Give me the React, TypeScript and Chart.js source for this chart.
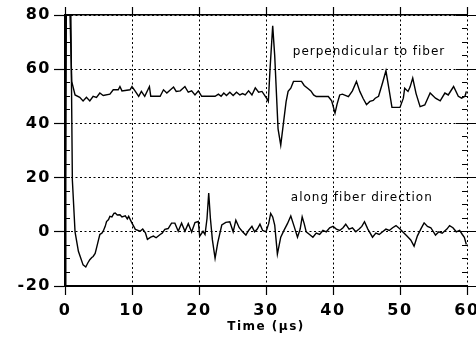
import React, { useEffect, useRef } from "react";
import { Chart, registerables } from "chart.js";

Chart.register(...registerables);

// ---- data (time in µs, amplitude) ----
const perpTime = [
  0, 0.15, 0.55, 1.0, 1.5, 2.2, 2.7, 3.2, 3.7, 4.2, 4.7, 5.2, 5.7, 6.7, 7.2, 7.95, 8.2, 8.5, 9.7, 10.0,
  10.5, 11.0, 11.4, 11.9, 12.6, 12.8, 14.2, 14.7, 15.2, 16.2, 16.6, 17.2, 17.9, 18.4, 18.9, 19.4, 19.9, 20.4, 22.4, 22.9,
  23.3, 23.7, 24.1, 24.6, 25.1, 25.6, 26.1, 26.5, 26.9, 27.4, 27.9, 28.4, 28.9, 29.4, 29.9, 30.1, 30.35, 30.6, 31.0, 31.3,
  31.8, 32.2, 32.6, 33.0, 33.3, 33.7, 34.1, 35.3, 35.7, 36.3, 36.7, 37.1, 37.5, 39.3, 39.8, 40.3, 40.6, 41.0, 41.4, 42.3,
  42.9, 43.5, 44.0, 44.5, 45.0, 45.5, 46.0, 46.3, 46.8, 47.4, 47.9, 48.4, 48.8, 50.0, 50.5, 50.7, 51.2, 51.5, 51.9, 52.4,
  53.0, 53.7, 54.5, 55.3, 56.0, 56.7, 57.2, 58.0, 58.7, 59.2, 59.7, 59.9,
];
const perpValue = [
  50, 100, 100, 55.5, 50.5, 49.6, 48.3, 49.6, 48.3, 50, 49.6, 51.2, 50.3, 50.8, 52.4, 52.4, 53.6, 52, 52.4, 53.6,
  51.8, 50, 51.8, 50, 53.6, 50, 50, 52.4, 51.2, 53.4, 51.8, 52, 53.6, 51.5, 52, 50.5, 52, 50, 50, 50.8,
  50, 51.2, 50.3, 51.5, 50.3, 51.5, 50.5, 51, 50.5, 52, 50.5, 53.1, 51.5, 51.8, 50, 49.2, 48.1, 60, 76, 65,
  38, 32, 40, 48, 51.8, 53, 55.5, 55.5, 54, 52.8, 52, 50.5, 49.9, 49.9, 48.3, 43.8, 47, 50.5, 50.8, 49.9,
  52, 55.5, 51.8, 49.2, 46.9, 48.1, 48.5, 49.3, 50, 55, 59.4, 52, 45.9, 45.9, 49.3, 53, 51.8, 53.4, 56.7, 51,
  46.2, 46.8, 51.2, 49.3, 48.3, 51.2, 50.5, 53.6, 50, 49.3, 50, 51.8,
];

const alongTime = [
  0, 0.25, 0.8, 1.1, 1.5, 2.0, 2.7, 3.1, 3.4, 3.7, 4.0, 4.2, 4.5, 4.7, 5.0, 5.2, 5.5, 5.7, 6.0, 6.2,
  6.5, 6.7, 7.0, 7.3, 7.5, 7.8, 8.2, 8.5, 9.0, 9.3, 9.5, 10.0, 10.5, 11.2, 11.6, 12.0, 12.3, 12.8, 13.2, 13.6,
  14.2, 14.5, 14.9, 15.4, 15.9, 16.4, 16.9, 17.4, 17.9, 18.4, 18.9, 19.4, 19.9, 20.1, 20.6, 20.9, 21.2, 21.45, 21.7, 22.0,
  22.4, 22.8, 23.4, 24.0, 24.6, 25.1, 25.5, 26.0, 26.5, 27.0, 27.4, 27.9, 28.3, 28.7, 29.1, 29.5, 30.0, 30.4, 30.7, 31.0,
  31.3, 31.7, 32.2, 32.7, 33.2, 33.7, 34.2, 34.7, 35.1, 35.4, 35.7, 36.0, 36.5, 37.0, 37.5, 38.0, 38.5, 39.0, 39.5, 40.0,
  40.5, 41.0, 41.5, 41.9, 42.4, 42.9, 43.4, 43.9, 44.3, 44.7, 45.2, 45.9, 46.4, 46.9, 47.4, 47.9, 48.4, 48.9, 49.4, 50.0,
  50.4, 51.0, 51.6, 52.1, 52.6, 53.1, 53.6, 54.1, 54.6, 55.3, 55.8, 56.3, 57.0, 57.4, 57.9, 58.4, 58.9, 59.3, 59.6, 59.9,
];
const alongValue = [
  0, 100, 100, 19, 0, -7.2, -12.2, -13, -11.5, -10.3, -9.5, -9.1, -8, -6, -3, -1, -0.5, 0.2, 2, 3.8,
  4.5, 5.7, 5.5, 6.8, 6.9, 6.2, 6.3, 5.5, 5.9, 4.8, 5.7, 3.2, 0.9, 0.2, 1, -0.4, -2.8, -2, -1.6, -2.2,
  -1, -0.5, 0.9, 1.2, 3.2, 3.2, 0.2, 3.2, 0.2, 3, -0.1, 3.4, 3.8, -1.6, 0.2, -1, 5, 14.3, 5, -3,
  -9.8, -4, 2.5, 3.5, 3.7, 0, 4.3, 1.5, 0, -1.2, 0.5, 2, 0, 1, 2.8, 0.5, 0, 3, 6.8, 5.5,
  2.5, -8.2, -2, 0.6, 3, 5.8, 2, -2, 1, 5.5, 3, 0, -1, -2, -0.5, -1, 0.5, 0, 1.5, 2,
  1, 0.5, 1.5, 2.8, 1, 1.5, 0, 1, 2, 3.7, 1, -2, -0.5, -1, 0, 1, 0.5, 1.5, 2.3, 1,
  0, -1.5, -3, -5.3, -1.5, 1, 3.3, 2, 1.5, -1.2, 0, -0.5, 1, 2.3, 1.5, 0, 0.5, -1, -2, -4.7,
];

const xMin = 0;
const xMax = 60;
const yMin = -20;
const yMax = 80;

const seriesLabels = ["perpendicular to fiber", "along fiber direction"];
const labelAnchorsX = [34.0, 33.7];
const labelAnchorsY = [65.3, 11.3];

const toPoints = (xs: number[], ys: number[]) => xs.map((x, i) => ({ x, y: ys[i] }));

const TICK_FONT = { family: "'DejaVu Sans', sans-serif", size: 16, weight: "bold" as const };

export default function App() {
  const ref = useRef<HTMLCanvasElement | null>(null);

  useEffect(() => {
    const canvas = ref.current;
    if (!canvas) return;

    const spacingPlugin = {
      id: "spacing",
      beforeDraw(c: any) {
        c.ctx.letterSpacing = "1.5px";
      },
      afterDraw(c: any) {
        c.ctx.letterSpacing = "0px";
      },
    };

    const labelPlugin = {
      id: "seriesText",
      afterDraw(c: any) {
        const ctx = c.ctx;
        const sx = c.scales.x;
        const sy = c.scales.y;
        ctx.save();
        ctx.letterSpacing = "1px";
        ctx.fillStyle = "#000";
        ctx.font = "12px 'DejaVu Sans', sans-serif";
        ctx.textAlign = "left";
        ctx.textBaseline = "alphabetic";
        for (let i = 0; i < seriesLabels.length; i++) {
          ctx.fillText(seriesLabels[i], sx.getPixelForValue(labelAnchorsX[i]), sy.getPixelForValue(labelAnchorsY[i]));
        }
        ctx.restore();
      },
    };

    const minorScale = (position: string, step: number, tickLength: number, axis: "x" | "y", weight = 0, size = 0) => ({
      type: "linear",
      position,
      axis,
      min: axis === "x" ? xMin : yMin,
      max: axis === "x" ? xMax : yMax,
      weight,
      ticks: { display: false, stepSize: step },
      grid: { display: true, drawOnChartArea: false, drawTicks: true, tickLength, tickColor: "#000", tickWidth: 1 },
      border: { display: false },
      afterFit: (s: any) => {
        if (axis === "x") s.height = size;
        else s.width = size;
      },
    });

    const chart = new Chart(canvas, {
      type: "scatter",
      data: {
        datasets: [
          {
            label: seriesLabels[0],
            data: toPoints(perpTime, perpValue),
            showLine: true,
            borderColor: "#000",
            borderWidth: 1.4,
            pointRadius: 0,
            tension: 0,
          },
          {
            label: seriesLabels[1],
            data: toPoints(alongTime, alongValue),
            showLine: true,
            borderColor: "#000",
            borderWidth: 1.4,
            pointRadius: 0,
            tension: 0,
          },
        ],
      },
      options: {
        animation: false,
        responsive: false,
        devicePixelRatio: 1,
        layout: { padding: { left: 0, right: 0, top: 7, bottom: 0 } },
        plugins: { legend: { display: false }, tooltip: { enabled: false } },
        scales: {
          x: {
            type: "linear",
            position: "bottom",
            min: xMin,
            max: xMax,
            ticks: { stepSize: 10, color: "#000", font: TICK_FONT, padding: 6, maxRotation: 0 },
            grid: { color: "#000", lineWidth: 1, tickLength: 9, tickColor: "#000", tickWidth: 1.2 },
            border: { display: true, color: "#000", width: 2, dash: [2, 2.5] },
            title: {
              display: true,
              text: "Time (µs)",
              color: "#000",
              font: { family: "'DejaVu Sans', sans-serif", size: 12, weight: "bold" },
              padding: { top: 0, bottom: 3 },
            },
            afterFit: (s: any) => {
              s.height = 51;
              s.paddingLeft = 0;
              s.paddingRight = 0;
            },
          },
          xTop: {
            type: "linear",
            position: "top",
            min: xMin,
            max: xMax,
            ticks: { display: false, stepSize: 10 },
            grid: { display: true, drawOnChartArea: false, tickLength: 8, tickColor: "#000", tickWidth: 1.2 },
            border: { display: true, color: "#000", width: 1.5 },
            afterFit: (s: any) => {
              s.height = 8;
              s.paddingLeft = 0;
              s.paddingRight = 0;
            },
          },
          y: {
            type: "linear",
            position: "left",
            min: yMin,
            max: yMax,
            weight: 1,
            ticks: { stepSize: 20, color: "#000", font: TICK_FONT, padding: 3 },
            grid: { color: "#000", lineWidth: 1, tickLength: 11, tickColor: "#000", tickWidth: 1.2 },
            border: { display: true, color: "#000", width: 2.5, dash: [2, 2.5] },
            afterFit: (s: any) => {
              s.width = 65;
              s.paddingTop = 0;
              s.paddingBottom = 0;
            },
          },
          yMinorL: minorScale("left", 5, -5, "y", 0, 0),
          yMinorR: minorScale("right", 5, -5, "y", 0, 0),
          yMajorRIn: minorScale("right", 20, -11, "y", 0, 0),
          yMajorR: minorScale("right", 20, 9, "y", 1, 9),
        } as any,
      },
      plugins: [spacingPlugin, labelPlugin],
    });

    return () => chart.destroy();
  }, []);

  return (
    <div style={{ position: "absolute", left: 0, top: 0, width: 476, height: 337, background: "#fff" }}>
      <canvas ref={ref} width={476} height={337} style={{ display: "block" }} />
    </div>
  );
}
